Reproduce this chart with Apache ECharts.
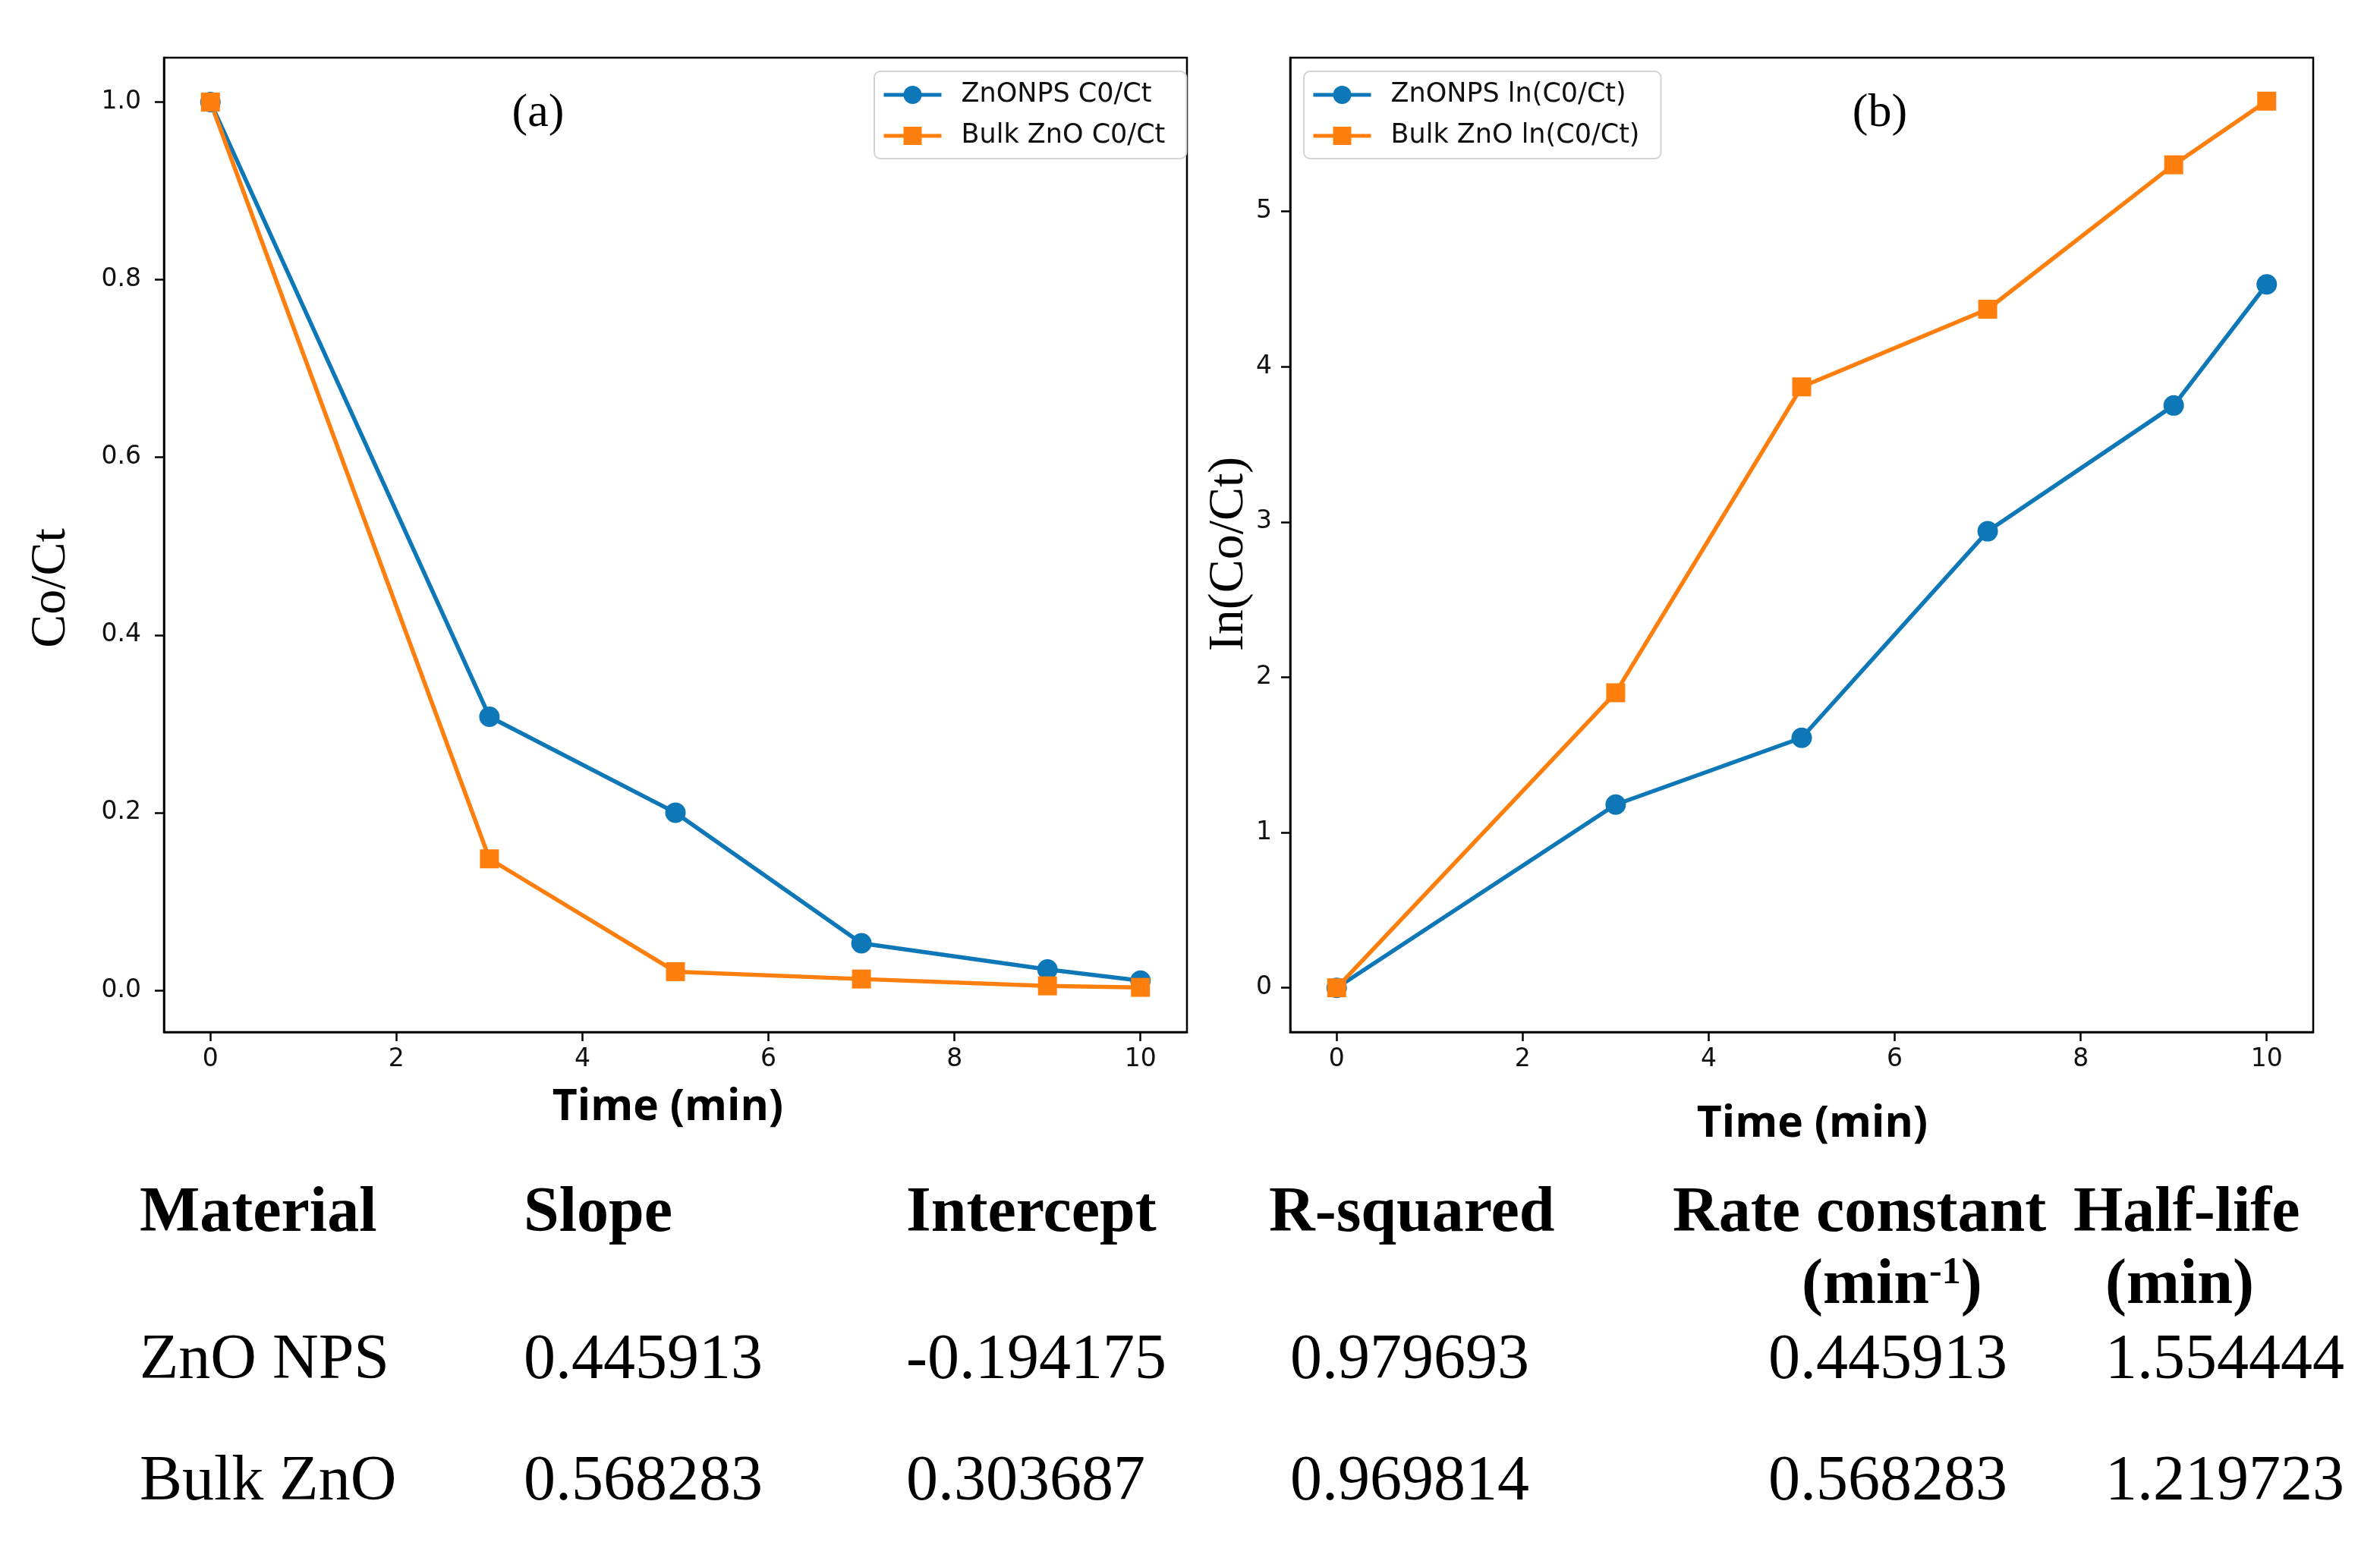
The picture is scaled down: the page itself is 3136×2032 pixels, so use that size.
<!DOCTYPE html>
<html>
<head>
<meta charset="utf-8">
<script src="https://cdn.jsdelivr.net/npm/echarts@6/dist/echarts.min.js"></script>
<style>
html,body{margin:0;padding:0;background:#fff;}
#chart{width:3136px;height:2032px;}
</style>
</head>
<body>
<div id="chart"></div>
<script>
// ---- data ----
const times = [0, 3, 5, 7, 9, 10];
const znoRatio = [1.0, 0.308, 0.200, 0.053, 0.0235, 0.0108];
const bulkRatio = [1.0, 0.148, 0.021, 0.0127, 0.005, 0.0033];
const znoLn = [0, 1.18, 1.61, 2.94, 3.75, 4.53];
const bulkLn = [0, 1.90, 3.87, 4.37, 5.30, 5.71];
const xTicks = [0, 2, 4, 6, 8, 10];
const yTicksA = [0, 0.2, 0.4, 0.6, 0.8, 1.0];
const yTicksB = [0, 1, 2, 3, 4, 5];
const seriesNamesA = ['ZnONPS C0/Ct', 'Bulk ZnO C0/Ct'];
const seriesNamesB = ['ZnONPS ln(C0/Ct)', 'Bulk ZnO ln(C0/Ct)'];
const tableHeader = ['Material', 'Slope', 'Intercept', 'R-squared', 'Rate constant', 'Half-life'];
const rowZnO = ['ZnO NPS', '0.445913', '-0.194175', '0.979693', '0.445913', '1.554444'];
const rowBulk = ['Bulk ZnO', '0.568283', '0.303687', '0.969814', '0.568283', '1.219723'];

// ---- styling ----
const BLUE = '#0d77b7';
const ORANGE = '#ff7f0e';
const SERIF = '"Liberation Serif", "Times New Roman", serif';
const SANS = '"DejaVu Sans", sans-serif';

function pairs(xs, ys) { return xs.map((x, i) => [x, ys[i]]); }

function xAxisCfg(gi) {
  return {
    type: 'value', gridIndex: gi, min: -0.5, max: 10.5,
    axisLine: { show: true, onZero: false, lineStyle: { color: '#000', width: 2.5 } },
    axisTick: { show: true, length: 12, lineStyle: { color: '#000', width: 2.5 }, customValues: xTicks },
    axisLabel: { show: true, margin: 20, color: '#111', fontSize: 33, fontFamily: SANS, customValues: xTicks },
    splitLine: { show: false }
  };
}
function yAxisCfg(gi, min, max, ticks, fmt, margin) {
  return {
    type: 'value', gridIndex: gi, min: min, max: max,
    axisLine: { show: true, onZero: false, lineStyle: { color: '#000', width: 2.5 } },
    axisTick: { show: true, length: 12, lineStyle: { color: '#000', width: 2.5 }, customValues: ticks },
    axisLabel: { show: true, margin: margin, color: '#111', fontSize: 33, fontFamily: SANS, customValues: ticks, formatter: fmt },
    splitLine: { show: false }
  };
}
function lineSeries(name, xi, yi, data, color, symbol) {
  return {
    name: name, type: 'line', xAxisIndex: xi, yAxisIndex: yi, data: data,
    symbol: symbol, symbolSize: symbol === 'circle' ? 27 : 25,
    lineStyle: { color: color, width: 5.5 }, itemStyle: { color: color },
    emphasis: { disabled: true }
  };
}
function legendCfg(names, left) {
  return {
    data: names, left: left, top: 94, orient: 'vertical',
    itemWidth: 76, itemHeight: 30, itemGap: 14,
    padding: [11, 28, 10, 10],
    borderColor: '#d4d4d4', borderWidth: 2, borderRadius: 8,
    backgroundColor: '#fff', selectedMode: false,
    lineStyle: { width: 5 },
    textStyle: { fontSize: 35, fontFamily: SANS, color: '#111', lineHeight: 40, padding: [0, 0, 0, 21] }
  };
}

const graphics = [];
function txt(x, y, text, font, align, rot) {
  graphics.push({
    type: 'text', x: x, y: y, rotation: rot || 0, silent: true,
    style: { text: text, font: font, fill: '#000', textAlign: align || 'left', textVerticalAlign: 'middle', align: align || 'left', verticalAlign: 'middle' }
  });
}
// axis titles and panel labels
txt(68, 775, 'Co/Ct', '66px ' + SERIF, 'center', Math.PI / 2);
txt(1620, 730, 'In(Co/Ct)', '66px ' + SERIF, 'center', Math.PI / 2);
txt(880, 1460, 'Time (min)', 'bold 57px "Open Sans", sans-serif', 'center');
txt(2388, 1482, 'Time (min)', 'bold 57px "Open Sans", sans-serif', 'center');
txt(709, 150, '(a)', '62px ' + SERIF, 'center');
txt(2477, 150, '(b)', '62px ' + SERIF, 'center');

// table
const headX = [184, 690, 1194, 1672, 2204, 2732];
const valX = [184, 690, 1194, 1700, 2330, 2774];
tableHeader.forEach((h, i) => txt(headX[i], 1600, h, 'bold 84px ' + SERIF, 'left'));
graphics.push({
  type: 'text', x: 2374, y: 1695, silent: true,
  style: {
    text: '{a|(min}{s|-1}{a|)}', textAlign: 'left', textVerticalAlign: 'middle', align: 'left', verticalAlign: 'middle',
    rich: {
      a: { fontSize: 84, fontWeight: 'bold', fontFamily: SERIF, color: '#000', lineHeight: 84 },
      s: { fontSize: 50, fontWeight: 'bold', fontFamily: SERIF, color: '#000', verticalAlign: 'top', lineHeight: 50 }
    }
  }
});
txt(2774, 1695, '(min)', 'bold 84px ' + SERIF, 'left');
rowZnO.forEach((v, i) => txt(valX[i], 1794, v, '84px ' + SERIF, 'left'));
rowBulk.forEach((v, i) => txt(valX[i], 1954, v, '84px ' + SERIF, 'left'));

const chart = echarts.init(document.getElementById('chart'), null, { width: 3136, height: 2032 });
chart.setOption({
  animation: false,
  backgroundColor: '#fff',
  grid: [
    { left: 216, top: 76, width: 1348, height: 1284, show: true, borderColor: '#000', borderWidth: 2.5, backgroundColor: 'transparent', containLabel: false },
    { left: 1700, top: 76, width: 1348, height: 1284, show: true, borderColor: '#000', borderWidth: 2.5, backgroundColor: 'transparent', containLabel: false }
  ],
  xAxis: [xAxisCfg(0), xAxisCfg(1)],
  yAxis: [
    yAxisCfg(0, -0.047, 1.05, yTicksA, v => v.toFixed(1), 30),
    yAxisCfg(1, -0.285, 5.99, yTicksB, v => String(v), 24)
  ],
  legend: [legendCfg(seriesNamesA, 1152), legendCfg(seriesNamesB, 1718)],
  series: [
    lineSeries(seriesNamesA[0], 0, 0, pairs(times, znoRatio), BLUE, 'circle'),
    lineSeries(seriesNamesA[1], 0, 0, pairs(times, bulkRatio), ORANGE, 'rect'),
    lineSeries(seriesNamesB[0], 1, 1, pairs(times, znoLn), BLUE, 'circle'),
    lineSeries(seriesNamesB[1], 1, 1, pairs(times, bulkLn), ORANGE, 'rect')
  ],
  graphic: graphics
});
</script>
</body>
</html>
